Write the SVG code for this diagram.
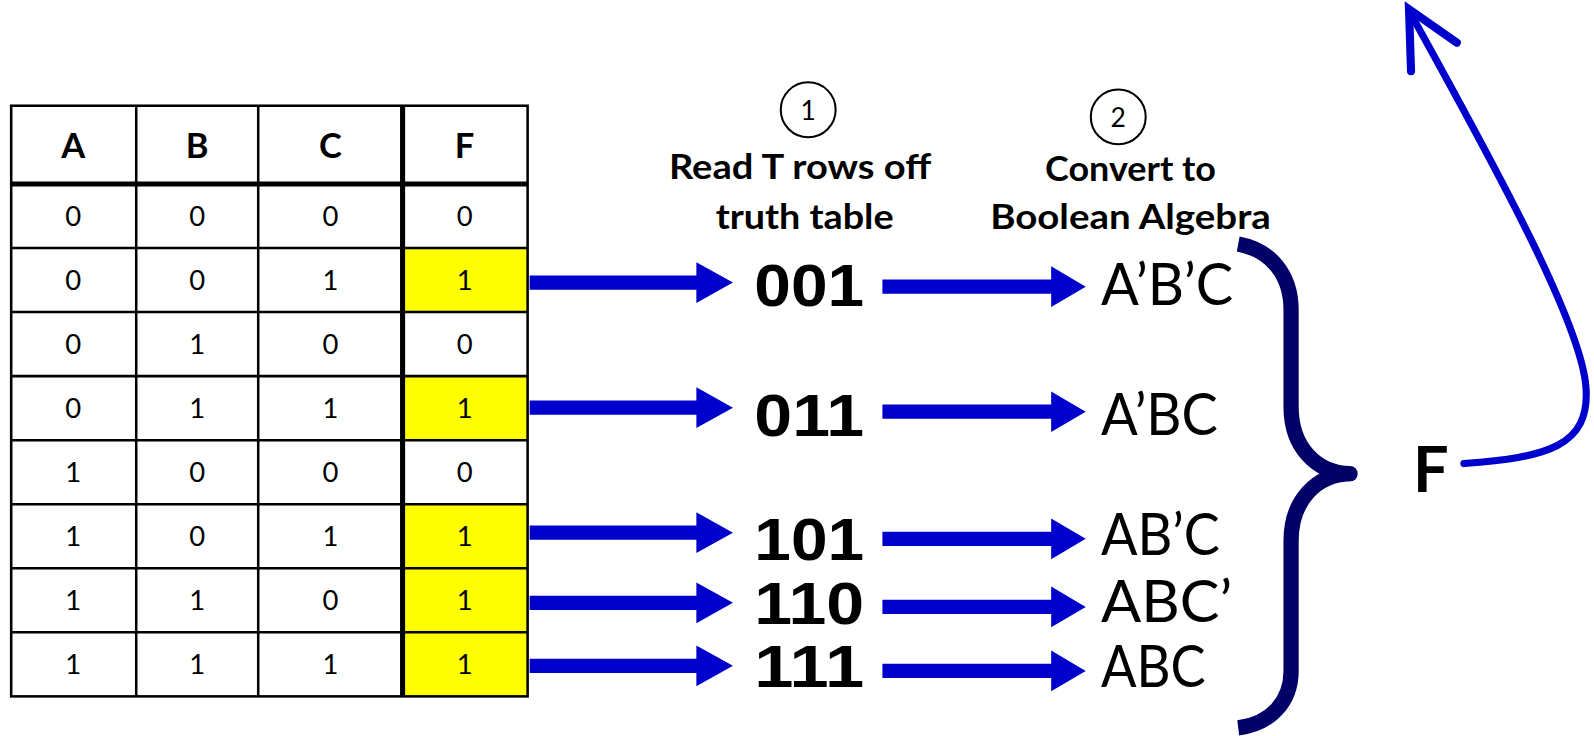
<svg xmlns="http://www.w3.org/2000/svg" width="1594" height="736" viewBox="0 0 1594 736">
<style>
.th{font-family:Lato,"Liberation Sans",sans-serif;font-weight:bold;font-size:34px;text-anchor:middle}
.td{font-family:Lato,"Liberation Sans",sans-serif;font-size:27px;text-anchor:middle}
.ttl{font-family:Lato,"Liberation Sans",sans-serif;font-weight:bold;font-size:33px}
.num{font-family:"Liberation Sans",Lato,sans-serif;font-weight:bold;font-size:58px}
.term{font-family:Lato,"Liberation Sans",sans-serif;font-size:57px}
.circ{fill:none;stroke:#000;stroke-width:2}
.cn{font-family:Lato,"Liberation Sans",sans-serif;font-size:26px;text-anchor:middle}
.arr{fill:#0000cc}
</style>
<defs>
<path id="a1" d="M0,-7 L164,-7 L164,-20 L200,0 L164,20 L164,7 L0,7 Z"/>
<path id="a2" d="M0,-7 L166,-7 L166,-20 L200,0 L166,20 L166,7 L0,7 Z"/>
</defs>
<g transform="scale(1.0166)">
<g id="truth-table">
<rect x="11" y="104" width="508" height="581" fill="#fff"/>
<g fill="#ffff00">
<rect x="396" y="244" width="123" height="63"/>
<rect x="396" y="370" width="123" height="63"/>
<rect x="396" y="496" width="123" height="189"/>
</g>
<g stroke="#000" stroke-width="2.5" fill="none">
<rect x="11" y="104" width="508" height="581"/>
<line x1="134" y1="104" x2="134" y2="685"/>
<line x1="254" y1="104" x2="254" y2="685"/>
<line x1="11" y1="244" x2="519" y2="244"/>
<line x1="11" y1="307" x2="519" y2="307"/>
<line x1="11" y1="370" x2="519" y2="370"/>
<line x1="11" y1="433" x2="519" y2="433"/>
<line x1="11" y1="496" x2="519" y2="496"/>
<line x1="11" y1="559" x2="519" y2="559"/>
<line x1="11" y1="622" x2="519" y2="622"/>
</g>
<line x1="396" y1="104" x2="396" y2="685" stroke="#000" stroke-width="5"/>
<line x1="11" y1="181" x2="519" y2="181" stroke="#000" stroke-width="5"/>
<g class="th">
<text x="72" y="155">A</text><text x="194" y="155">B</text><text x="325" y="155">C</text><text x="457" y="155">F</text>
</g>
<g class="td">
<text x="72" y="222">0</text><text x="194" y="222">0</text><text x="325" y="222">0</text><text x="457" y="222">0</text>
<text x="72" y="285">0</text><text x="194" y="285">0</text><text x="325" y="285">1</text><text x="457" y="285">1</text>
<text x="72" y="348">0</text><text x="194" y="348">1</text><text x="325" y="348">0</text><text x="457" y="348">0</text>
<text x="72" y="411">0</text><text x="194" y="411">1</text><text x="325" y="411">1</text><text x="457" y="411">1</text>
<text x="72" y="474">1</text><text x="194" y="474">0</text><text x="325" y="474">0</text><text x="457" y="474">0</text>
<text x="72" y="537">1</text><text x="194" y="537">0</text><text x="325" y="537">1</text><text x="457" y="537">1</text>
<text x="72" y="600">1</text><text x="194" y="600">1</text><text x="325" y="600">0</text><text x="457" y="600">1</text>
<text x="72" y="663">1</text><text x="194" y="663">1</text><text x="325" y="663">1</text><text x="457" y="663">1</text>
</g>
</g>
<g id="step1">
<circle class="circ" cx="795" cy="108" r="27"/>
<text class="cn" x="795" y="118">1</text>
<text class="ttl" x="658" y="176" textLength="258" lengthAdjust="spacingAndGlyphs">Read T rows off</text>
<text class="ttl" x="704" y="225" textLength="175" lengthAdjust="spacingAndGlyphs">truth table</text>
</g>
<g id="step2">
<circle class="circ" cx="1100" cy="115" r="27"/>
<text class="cn" x="1100" y="125">2</text>
<text class="ttl" x="1028" y="178" textLength="168" lengthAdjust="spacingAndGlyphs">Convert to</text>
<text class="ttl" x="974" y="225" textLength="276" lengthAdjust="spacingAndGlyphs">Boolean Algebra</text>
</g>
<g id="minterm-binaries">
<text class="num" x="742" y="301" textLength="108" lengthAdjust="spacingAndGlyphs">001</text>
<text class="num" x="742" y="429" textLength="108" lengthAdjust="spacingAndGlyphs">011</text>
<text class="num" x="742" y="551" textLength="108" lengthAdjust="spacingAndGlyphs">101</text>
<text class="num" x="742" y="614" textLength="108" lengthAdjust="spacingAndGlyphs">110</text>
<text class="num" x="742" y="676" textLength="108" lengthAdjust="spacingAndGlyphs">111</text>
</g>
<g id="minterm-terms">
<text class="term" x="1083" y="300" textLength="130" lengthAdjust="spacingAndGlyphs">A’B’C</text>
<text class="term" x="1083" y="428" textLength="115" lengthAdjust="spacingAndGlyphs">A’BC</text>
<text class="term" x="1083" y="546" textLength="117" lengthAdjust="spacingAndGlyphs">AB’C</text>
<text class="term" x="1083" y="612" textLength="129" lengthAdjust="spacingAndGlyphs">ABC’</text>
<text class="term" x="1083" y="676" textLength="103" lengthAdjust="spacingAndGlyphs">ABC</text>
</g>
<g id="result-F">
<text x="1390" y="484" font-family="Lato,'Liberation Sans',sans-serif" font-weight="bold" font-size="62">F</text>
</g>
<g id="connectors">
<g class="arr">
<use href="#a1" x="521" y="278"/>
<use href="#a1" x="521" y="401"/>
<use href="#a1" x="521" y="524"/>
<use href="#a1" x="521" y="593"/>
<use href="#a1" x="521" y="655"/>
<use href="#a2" x="868" y="282"/>
<use href="#a2" x="868" y="405"/>
<use href="#a2" x="868" y="530"/>
<use href="#a2" x="868" y="597"/>
<use href="#a2" x="868" y="660"/>
</g>
<path d="M1218,240 C1250,246 1270,270 1270,305 L1270,400 C1270,440 1295,465 1328,466 C1295,467 1270,492 1270,532 L1270,660 C1270,690 1250,712 1218,716" fill="none" stroke="#000066" stroke-width="15"/>
<circle cx="1328" cy="466" r="7.5" fill="#000066"/>
<path d="M1440,456 C1520,450 1565,440 1560,380 C1555,320 1480,180 1388,14" fill="none" stroke="#0000cc" stroke-width="7" stroke-linecap="round"/>
<polyline points="1388,70 1386,9 1433,42" fill="none" stroke="#0000cc" stroke-width="8" stroke-linecap="round" stroke-linejoin="miter"/>
</g>
</g>
</svg>
